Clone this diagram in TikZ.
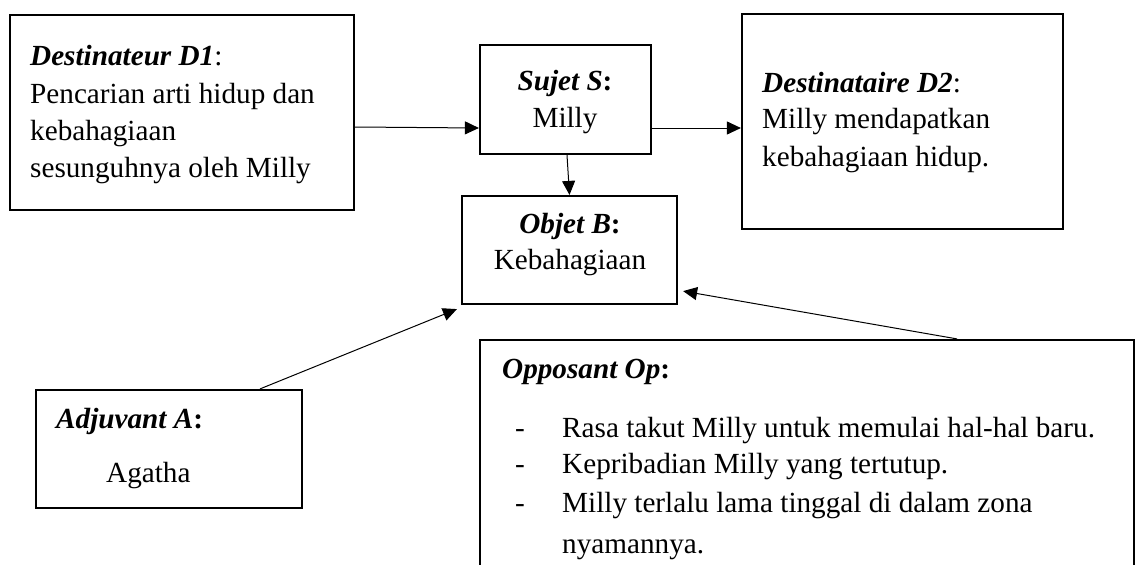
\documentclass[tikz,border=0pt]{standalone}
\usepackage{fontspec}
\setmainfont{Liberation Serif}
\usetikzlibrary{arrows.meta}
\tikzset{
  box/.style={draw, line width=2.2pt, rectangle, inner sep=0pt},
  txt/.style={anchor=base west, inner sep=0pt, font=\fontsize{29.2}{34}\selectfont},
  ctxt/.style={anchor=base, inner sep=0pt, font=\fontsize{29.2}{34}\selectfont},
  arr/.style={line width=1pt, -{Triangle[length=14pt,width=13pt]}}
}
\newcommand{\lbl}[1]{\textbf{\textit{#1}}}
\begin{document}
\begin{tikzpicture}[x=1pt,y=-1pt]
\path[use as bounding box, clip] (0,0) rectangle (1136,565);
\fill[white] (0,0) rectangle (1136,565);
% boxes
\node[box, minimum width=344pt, minimum height=195pt] (D1) at (182,112.5) {};
\node[box, minimum width=171pt, minimum height=109pt] (S) at (565.5,99.5) {};
\node[box, minimum width=321pt, minimum height=215pt] (D2) at (902.5,121.5) {};
\node[box, minimum width=215pt, minimum height=108pt] (B) at (569.5,250) {};
\node[box, minimum width=266pt, minimum height=118pt] (A) at (169,449) {};
\node[box, minimum width=654pt, minimum height=260pt] (Op) at (807,470) {};
% texts
\node[txt] (d1a) at (30,65) {\lbl{Destinateur D1}:};
\node[txt] (d1b) at (30,103) {Pencarian arti hidup dan};
\node[txt] (d1c) at (30,140) {kebahagiaan};
\node[txt] (d1d) at (30,177) {sesunguhnya oleh Milly};
\node[ctxt] (sa) at (565,90) {\textbf{\textit{Sujet S}:}};
\node[ctxt] (sb) at (565,127) {Milly};
\node[txt] (d2a) at (762,92) {\lbl{Destinataire D2}:};
\node[txt] (d2b) at (762,128) {Milly mendapatkan};
\node[txt] (d2c) at (762,166) {kebahagiaan hidup.};
\node[ctxt] (ba) at (570,233) {\textbf{\textit{Objet B}:}};
\node[ctxt] (bb) at (570,269) {Kebahagiaan};
\node[txt] (aa) at (56,428) {\textbf{\textit{Adjuvant A}:}};
\node[txt] (ab) at (106,482) {Agatha};
\node[txt] (opa) at (502,378) {\textbf{\textit{Opposant Op}:}};
\node[txt] (opd1) at (515,437) {-};
\node[txt] (opd2) at (515,473) {-};
\node[txt] (opd3) at (515,512) {-};
\node[txt] (op1) at (562,437) {Rasa takut Milly untuk memulai hal-hal baru.};
\node[txt] (op2) at (562,473) {Kepribadian Milly yang tertutup.};
\node[txt] (op3) at (562,512) {Milly terlalu lama tinggal di dalam zona};
\node[txt] (op4) at (562,553) {nyamannya.};
% connectors
\draw[arr] ([yshift=-14.5pt]D1.east) -- ([yshift=-28.5pt]S.west);
\draw[arr] ([yshift=-28.5pt]S.east) -- ([yshift=-6.5pt]D2.west);
\draw[arr] ([xshift=1.5pt]S.south) -- (B.north);
\draw[arr] ([xshift=91pt]A.north) -- ([shift={(-4pt,-4pt)}]B.south west);
\draw[arr] ([xshift=150pt]Op.north) -- ([shift={(5pt,14pt)}]B.south east);
\end{tikzpicture}
\end{document}
